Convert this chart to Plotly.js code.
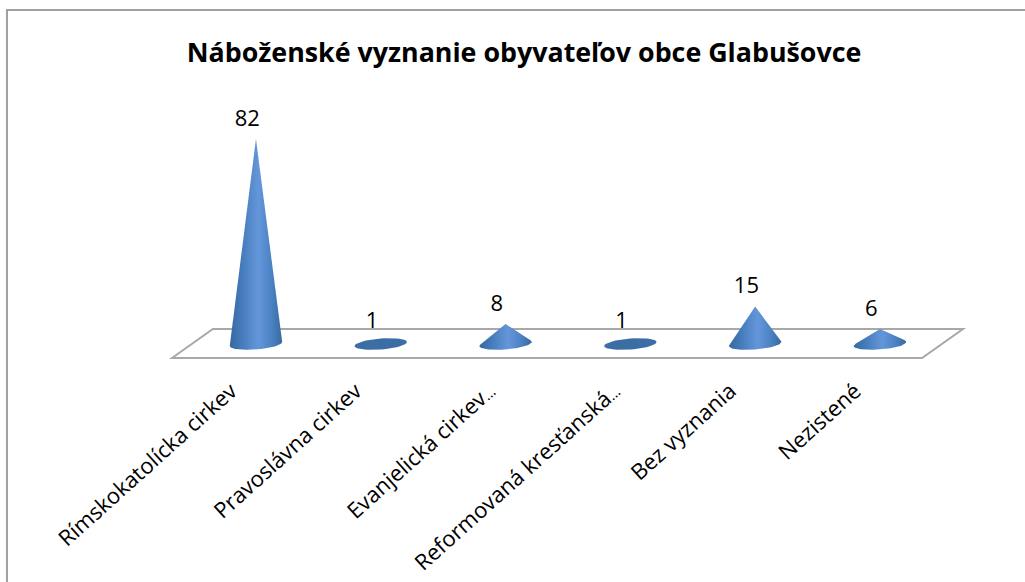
<!DOCTYPE html>
<html><head><meta charset="utf-8">
<script src="https://cdn.plot.ly/plotly-3.0.0.min.js"></script>
<style>html,body{margin:0;padding:0;background:#fff}#c{width:1025px;height:582px}</style>
</head><body><div id="c"></div>
<script>
const categories = ["Rímskokatolícka cirkev","Pravoslávna cirkev","Evanjelická cirkev…","Reformovaná kresťanská…","Bez vyznania","Nezistené"];
const values = [82,1,8,1,15,6];
const titleText = "Náboženské vyznanie obyvateľov obce Glabušovce";
const positions = categories.map((_, i) => i);
const tickDisplay = categories.map(c => c.replace('…', '<span style="font-size:15px">…</span>'));
const tickPositions = categories.map((c, i) => i + (c.endsWith('…') ? -0.13 : -0.20));

const BASE_A = 0.21, BASE_B = 2.2, TILT = 0.8;
function coneOutline(cx, v){
  const xs = [], ys = [];
  const full = v <= BASE_B;
  const t0 = full ? 0 : Math.asin(BASE_B / v);
  const start = full ? 0 : Math.PI - t0;
  const end = full ? 2*Math.PI : 2*Math.PI + t0;
  const N = 48;
  for (let k = 0; k <= N; k++){
    const t = start + (end - start) * k / N;
    xs.push(cx + BASE_A * Math.cos(t));
    ys.push(BASE_B * Math.sin(t) + TILT * Math.cos(t));
  }
  if (!full){ xs.push(cx); ys.push(v); }
  xs.push(xs[0]); ys.push(ys[0]);
  return {x: xs, y: ys};
}

const coneTraces = values.map((v, i) => {
  const o = coneOutline(positions[i], v);
  const t = {type:'scatter', mode:'lines', x:o.x, y:o.y, fill:'toself', line:{width:0, color:'rgba(0,0,0,0)'}, hoverinfo:'skip', showlegend:false, cliponaxis:false};
  if (v <= BASE_B) t.fillcolor = '#3c6ea6';
  else t.fillgradient = {type:'horizontal', colorscale:[[0,'#36699f'],[0.2,'#4279b8'],[0.55,'#6497da'],[0.8,'#4a82c2'],[1,'#36699f']]};
  return t;
});

const labelTrace = {type:'scatter', mode:'text', x:positions.map(p=>p-0.07), y:values.map(v=>v+3.2), text:values.map(String),
  textposition:'top center', textfont:{family:'"Open Sans", sans-serif', size:22, color:'#000'}, hoverinfo:'skip', showlegend:false, cliponaxis:false};

const layout = {
  width:1025, height:582, margin:{l:0,r:0,t:0,b:205}, paper_bgcolor:'#fff', plot_bgcolor:'rgba(0,0,0,0)', showlegend:false,
  title:{text:'<b>'+titleText+'</b>', x:524/1025, xanchor:'center', xref:'paper', y:1-53/582, yanchor:'middle', font:{family:'"Open Sans", sans-serif', size:26.8, color:'#000'}},
  xaxis:{range:[-2.051,6.162], showgrid:false, zeroline:false, showline:false, ticks:'', tickmode:'array', tickvals:tickPositions, ticktext:tickDisplay, tickangle:-42,
    ticklabelstandoff:-4, tickfont:{family:'"Open Sans", sans-serif', size:22, color:'#000'}, automargin:false},
  yaxis:{range:[-13.2,137.6], showgrid:false, zeroline:false, showline:false, showticklabels:false, ticks:''},
  shapes:[
    {type:'path', xref:'x', yref:'y', layer:'below', path:'M -0.673 -5.6 L -0.345 6 L 5.665 6 L 5.337 -5.6 Z', line:{color:'#a8a8a8', width:2}, fillcolor:'#fff'},
    {type:'path', xref:'paper', yref:'paper', layer:'below', path:'M 0.0068 -0.5442 L 0.0068 0.9735 L 1 0.9735', line:{color:'#a0a0a0', width:2}}
  ]
};
Plotly.newPlot('c', [...coneTraces, labelTrace], layout, {displayModeBar:false, staticPlot:true});
</script></body></html>
